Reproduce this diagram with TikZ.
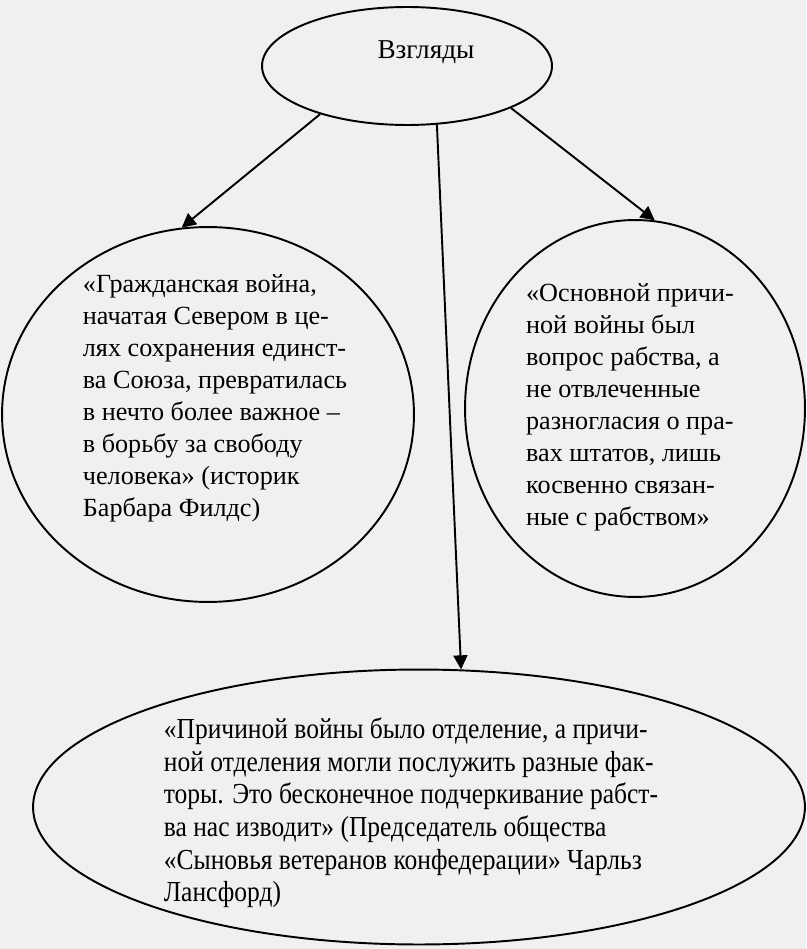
\documentclass[tikz,border=0pt]{standalone}
\usepackage{fontspec}
\setmainfont{Liberation Serif}
\newfontfamily\narrowserif[FakeStretch=0.88]{Liberation Serif}
\usetikzlibrary{arrows.meta,shapes.geometric,calc}
\tikzset{
  view ellipse/.style={
    ellipse,
    draw=black,
    line width=1.1pt,
    inner sep=0pt,
  },
  view text/.style={
    align=left,
    inner sep=0pt,
    font=\fontsize{14.9}{18.2}\selectfont,
  },
  view arrow/.style={-{Triangle[length=8pt,width=8pt]}, line width=1.1pt},
}

\begin{document}
\begin{tikzpicture}[x=0.02cm,y=-0.02cm]
  \fill[black!6] (0,0) rectangle (806,949);
  \useasboundingbox (0,0) rectangle (806,949);

  \node[view ellipse,minimum width=5.8cm,minimum height=2.36cm] (vzg) at (407,66) {};
  \node[font=\fontsize{15.5}{18.2}\selectfont] (vzgtxt) at (426,52) {Взгляды};

  \node[view ellipse,minimum width=8.24cm,minimum height=7.5cm] (north) at (208,414.5) {};
  \node[view ellipse,minimum width=6.8cm,minimum height=7.54cm] (slavery) at (635,408.5) {};
  \node[view ellipse,minimum width=15.44cm,minimum height=5.5cm] (secession) at (419,807) {};

  \node[view text] (northtxt) at (215,398) {«Гражданская война,\\начатая Севером в це-\\лях сохранения единст-\\ва Союза, превратилась\\в нечто более важное –\\в борьбу за свободу\\человека» (историк\\Барбара Филдс)};
  \node[view text] (slaverytxt) at (630,407) {«Основной причи-\\ной войны был\\вопрос рабства, а\\не отвлеченные\\разногласия о пра-\\вах штатов, лишь\\косвенно связан-\\ные с рабством»};
  \node[view text,font=\narrowserif\fontsize{16.5}{18.6}\selectfont] (secessiontxt) at (411,813) {«Причиной войны было отделение, а причи-\\ной отделения могли послужить разные фак-\\торы. Это бесконечное подчеркивание рабст-\\ва нас изводит» (Председатель общества\\«Сыновья ветеранов конфедерации» Чарльз\\Лансфорд)};

  \draw[view arrow] (vzg.209) -- (north.98);
  \draw[view arrow] (vzg.338) -- (slavery.84.5);
  \draw[view arrow] (vzg.297) -- (secession.73.3);
\end{tikzpicture}
\end{document}
